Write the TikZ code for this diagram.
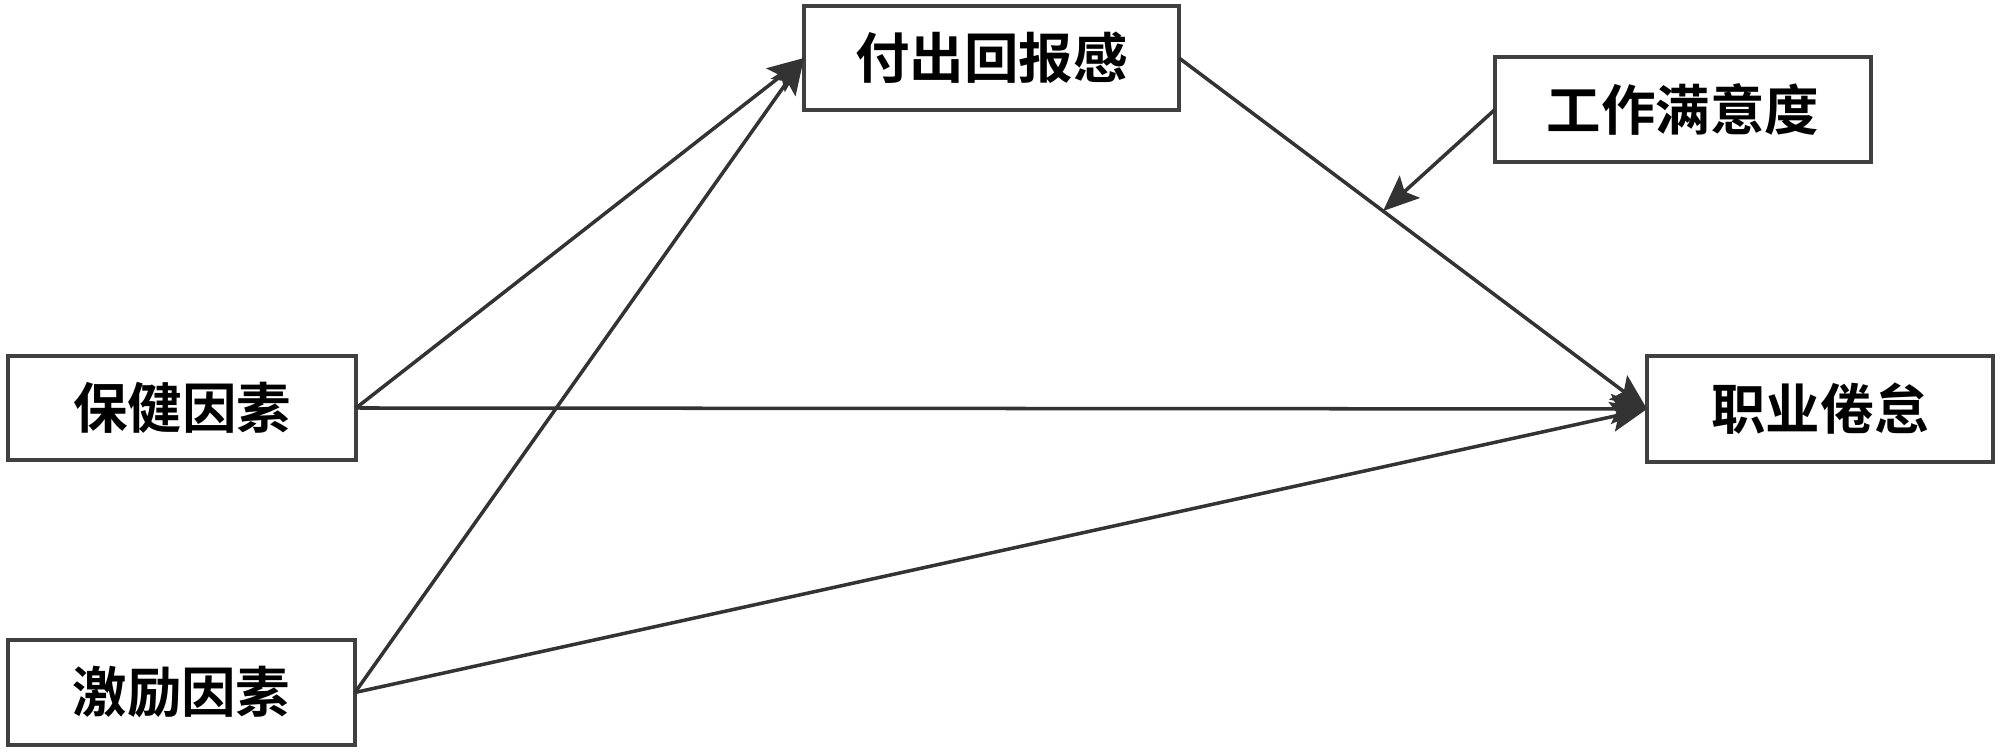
\documentclass[tikz,border=0pt]{standalone}
\usepackage{fontspec}
\newfontfamily\cjk{Noto Sans CJK SC}[BoldFont={* Bold}]
\usetikzlibrary{arrows.meta}
\begin{document}
\begin{tikzpicture}[
  box/.style={draw=black!75, line width=1.05pt, fill=white, inner sep=0pt, outer sep=0pt,
    font=\cjk\bfseries\fontsize{15.5}{18}\selectfont, text=black},
  conn/.style={draw=black!80, line width=1pt, -{Stealth[length=0.36cm, width=0.3cm, inset=0.07cm]}}
]
\useasboundingbox (0,0) rectangle (20,7.51);
\node[box, minimum width=3.75cm, minimum height=1.04cm] (fc) at (9.915,6.93) {付出回报感};
\node[box, minimum width=3.76cm, minimum height=1.05cm] (gz) at (16.83,6.415) {工作满意度};
\node[box, minimum width=3.48cm, minimum height=1.04cm] (bj) at (1.82,3.43) {保健因素};
\node[box, minimum width=3.47cm, minimum height=1.05cm] (jl) at (1.815,0.585) {激励因素};
\node[box, minimum width=3.46cm, minimum height=1.06cm] (zy) at (18.20,3.42) {职业倦怠};
\draw[conn] (bj.east) -- (fc.west);
\draw[conn] (jl.east) -- (fc.west);
\draw[conn] (bj.east) -- (zy.west);
\draw[conn] (jl.east) -- (zy.west);
\draw[conn] (fc.east) -- (zy.west);
\path (fc.east) -- (zy.west) coordinate[pos=0.436] (m);
\draw[conn] (gz.west) -- (m);
\end{tikzpicture}
\end{document}
